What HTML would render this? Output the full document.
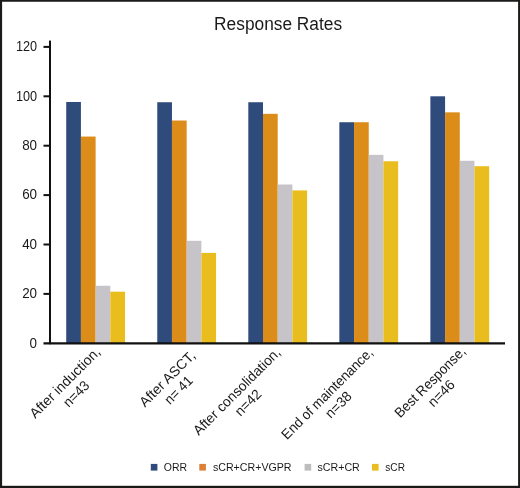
<!DOCTYPE html>
<html><head><meta charset="utf-8"><title>Response Rates</title>
<style>
html,body{margin:0;padding:0;background:#fff;}
body{width:520px;height:488px;overflow:hidden;font-family:"Liberation Sans",sans-serif;}
svg{display:block;will-change:transform;}
text{font-family:"Liberation Sans",sans-serif;fill:#1a1a1a;}
</style></head><body>
<svg width="520" height="488" viewBox="0 0 520 488">
<rect x="0" y="0" width="520" height="488" fill="#fff"/>
<rect x="66.22" y="101.98" width="14.70" height="241.32" fill="#2f4b7c"/>
<rect x="80.92" y="136.56" width="14.70" height="206.74" fill="#dc8c18"/>
<rect x="95.62" y="285.75" width="14.70" height="57.55" fill="#c6c4c9"/>
<rect x="110.32" y="291.68" width="14.70" height="51.62" fill="#eabd1f"/>
<rect x="157.26" y="102.23" width="14.70" height="241.07" fill="#2f4b7c"/>
<rect x="171.96" y="120.51" width="14.70" height="222.79" fill="#dc8c18"/>
<rect x="186.66" y="240.80" width="14.70" height="102.50" fill="#c6c4c9"/>
<rect x="201.36" y="252.90" width="14.70" height="90.40" fill="#eabd1f"/>
<rect x="248.30" y="102.23" width="14.70" height="241.07" fill="#2f4b7c"/>
<rect x="263.00" y="113.84" width="14.70" height="229.46" fill="#dc8c18"/>
<rect x="277.70" y="184.48" width="14.70" height="158.82" fill="#c6c4c9"/>
<rect x="292.40" y="190.41" width="14.70" height="152.89" fill="#eabd1f"/>
<rect x="339.34" y="122.23" width="14.70" height="221.07" fill="#2f4b7c"/>
<rect x="354.04" y="122.23" width="14.70" height="221.07" fill="#dc8c18"/>
<rect x="368.74" y="154.84" width="14.70" height="188.46" fill="#c6c4c9"/>
<rect x="383.44" y="161.26" width="14.70" height="182.04" fill="#eabd1f"/>
<rect x="430.38" y="96.30" width="14.70" height="247.00" fill="#2f4b7c"/>
<rect x="445.08" y="112.35" width="14.70" height="230.95" fill="#dc8c18"/>
<rect x="459.78" y="160.77" width="14.70" height="182.53" fill="#c6c4c9"/>
<rect x="474.48" y="166.20" width="14.70" height="177.10" fill="#eabd1f"/>
<rect x="49" y="40.6" width="2.0" height="303.6" fill="#111"/>
<rect x="43.5" y="342.25" width="461.5" height="2.25" fill="#111"/>
<rect x="43.5" y="292.90" width="6" height="2" fill="#111"/>
<rect x="43.5" y="243.50" width="6" height="2" fill="#111"/>
<rect x="43.5" y="194.10" width="6" height="2" fill="#111"/>
<rect x="43.5" y="144.70" width="6" height="2" fill="#111"/>
<rect x="43.5" y="95.30" width="6" height="2" fill="#111"/>
<rect x="43.5" y="45.90" width="6" height="2" fill="#111"/>
<text transform="translate(37.1,347.50) scale(0.960,1)" font-size="14" text-anchor="end">0</text>
<text transform="translate(37.1,298.10) scale(0.960,1)" font-size="14" text-anchor="end">20</text>
<text transform="translate(37.1,248.70) scale(0.960,1)" font-size="14" text-anchor="end">40</text>
<text transform="translate(37.1,199.30) scale(0.960,1)" font-size="14" text-anchor="end">60</text>
<text transform="translate(37.1,149.90) scale(0.960,1)" font-size="14" text-anchor="end">80</text>
<text transform="translate(37.1,100.50) scale(0.905,1)" font-size="14" text-anchor="end">100</text>
<text transform="translate(37.1,51.10) scale(0.905,1)" font-size="14" text-anchor="end">120</text>
<text transform="translate(278.1,29.6) scale(0.962,1)" font-size="18" text-anchor="middle">Response Rates</text>
<g transform="translate(65.0,382.7) rotate(-45)" font-size="14" text-anchor="middle"><text transform="translate(0,4.5) scale(1.000,1)">After induction,</text><text transform="translate(0,20.5) scale(0.970,1)">n=43</text></g>
<g transform="translate(167.4,378.9) rotate(-45)" font-size="14" text-anchor="middle"><text transform="translate(0,4.5) scale(1.000,1)">After ASCT,</text><text transform="translate(0,20.5) scale(0.950,1)">n= 41</text></g>
<g transform="translate(236.9,391.5) rotate(-45)" font-size="14" text-anchor="middle"><text transform="translate(0,4.5) scale(0.985,1)">After consolidation,</text><text transform="translate(0,20.5) scale(0.980,1)">n=42</text></g>
<g transform="translate(327.3,393.6) rotate(-45)" font-size="14" text-anchor="middle"><text transform="translate(0,4.5) scale(0.956,1)">End of maintenance,</text><text transform="translate(0,20.5) scale(0.980,1)">n=38</text></g>
<g transform="translate(430.2,382.2) rotate(-45)" font-size="14" text-anchor="middle"><text transform="translate(0,4.5) scale(0.950,1)">Best Response,</text><text transform="translate(0,20.5) scale(1.000,1)">n=46</text></g>
<rect x="150.8" y="463.9" width="6.6" height="6.7" fill="#2f4b7c"/>
<text transform="translate(163.8,470.7) scale(0.985,1)" font-size="10.65">ORR</text>
<rect x="199.3" y="463.9" width="6.6" height="6.7" fill="#dc8038"/>
<text transform="translate(212.9,470.7) scale(1.000,1)" font-size="10.65">sCR+CR+VGPR</text>
<rect x="304.6" y="463.9" width="6.6" height="6.7" fill="#bdbdbd"/>
<text transform="translate(317.5,470.7) scale(1.000,1)" font-size="10.65">sCR+CR</text>
<rect x="372.0" y="463.9" width="6.6" height="6.7" fill="#eabd1f"/>
<text transform="translate(385.3,470.7) scale(0.950,1)" font-size="10.65">sCR</text>
<rect x="0" y="0" width="520" height="1.75" fill="#1a1a18"/>
<rect x="0" y="485.8" width="520" height="2.2" fill="#1a1a18"/>
<rect x="0" y="0" width="2.1" height="488" fill="#1a1a18"/>
<rect x="518.1" y="0" width="1.9" height="488" fill="#1a1a18"/>
</svg></body></html>
